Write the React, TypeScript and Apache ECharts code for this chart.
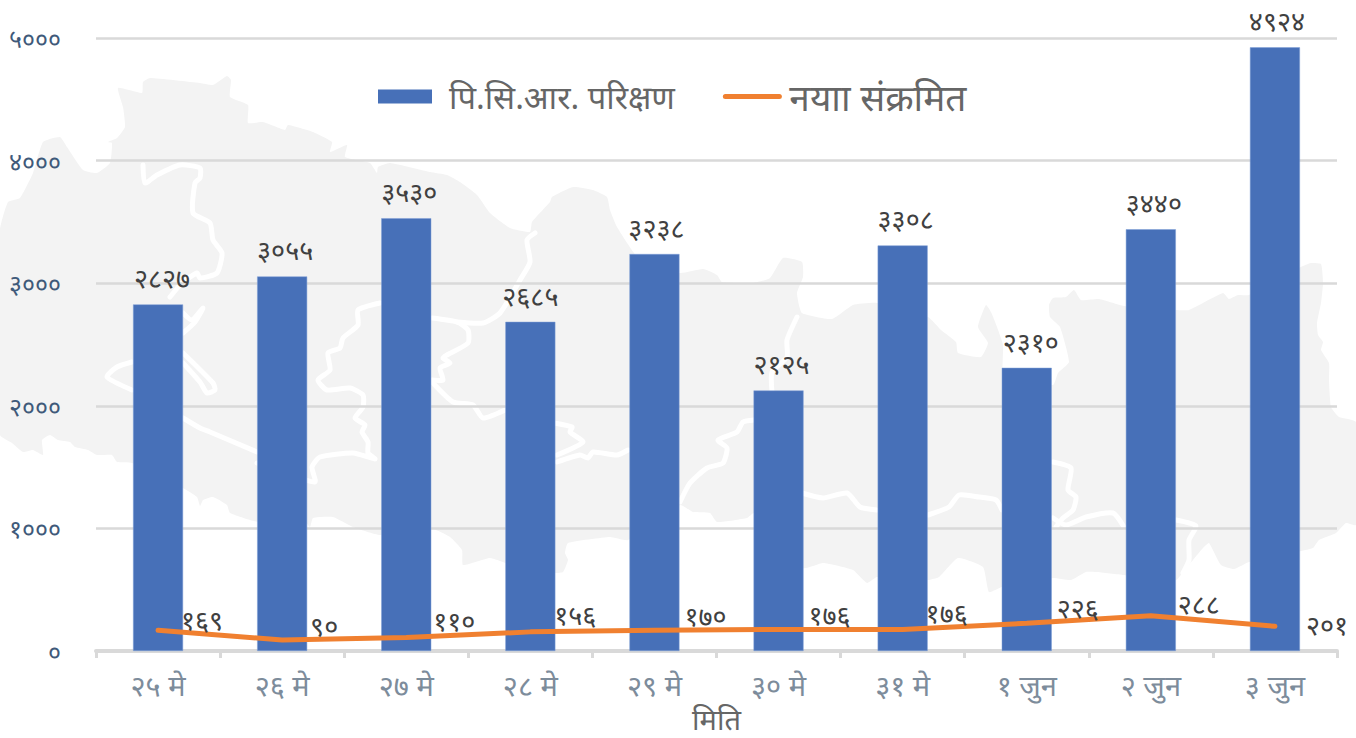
import React, { useEffect, useRef } from "react";
import * as echarts from "echarts";

const categories = ["२५ मे", "२६ मे", "२७ मे", "२८ मे", "२९ मे", "३० मे", "३१ मे", "१ जुन", "२ जुन", "३ जुन"];
const pcrTests = [2827, 3055, 3530, 2685, 3238, 2125, 3308, 2310, 3440, 4924];
const newCases = [169, 90, 110, 156, 170, 176, 176, 226, 288, 201];
const seriesNames = ["पि.सि.आर. परिक्षण", "नयाा संक्रमित"];
const axisName = "मिति";

const barLabelNudge = [[4, 0], [3, 0], [3, 0], [0, 0], [2, 0], [3, 0], [3, 0], [4, 0], [3, 0], [2, 0]];
const lineLabelNudge = [[44, -11], [42, -14], [48, -17], [45, -17], [51, -15], [51, -15], [44, -17], [51, -16], [48, -12], [52, -2]];

const mapOutline = [
  [0,230],[8,202],[20,198],[33,173],[43,142],[60,137],[67,147],[83,170],[97,173],[110,163],[112,143],[108,142],[117,138],[125,127],[123,107],[118,88],[142,93],[143,82],[150,78],[200,83],[213,85],[227,76],[231,80],[230,97],[248,105],[248,123],[263,122],[285,130],[288,125],[313,132],[332,142],[330,152],[347,145],[345,157],[370,163],[377,173],[378,167],[390,163],[430,172],[447,175],[460,182],[477,195],[490,213],[510,228],[530,232],[532,222],[550,202],[552,197],[573,187],[593,190],[607,197],[610,210],[617,227],[640,260],[680,273],[703,269],[717,275],[722,282],[753,283],[770,278],[783,258],[802,262],[803,277],[797,293],[802,313],[832,319],[853,305],[877,303],[928,317],[941,330],[956,342],[958,353],[981,357],[988,343],[978,327],[986,305],[991,312],[997,327],[1003,345],[1004,385],[1053,385],[1058,373],[1069,362],[1060,327],[1050,317],[1049,305],[1053,298],[1066,297],[1074,290],[1081,300],[1099,299],[1124,306],[1176,310],[1189,310],[1223,293],[1229,299],[1238,295],[1249,295],[1301,267],[1311,263],[1321,264],[1323,283],[1321,303],[1317,323],[1318,335],[1323,342],[1321,350],[1329,363],[1329,380],[1331,407],[1339,417],[1356,422],[1356,525],[1346,523],[1336,533],[1319,540],[1313,548],[1301,551],[1249,562],[1234,569],[1221,565],[1209,543],[1203,548],[1193,560],[1186,568],[1176,580],[1124,575],[1096,572],[1086,572],[1071,580],[1053,578],[1002,587],[989,592],[983,567],[958,558],[939,577],[928,580],[877,577],[867,583],[853,570],[823,563],[803,568],[754,513],[747,518],[717,522],[710,513],[693,512],[680,505],[628,540],[610,537],[568,543],[565,553],[568,560],[563,572],[554,573],[506,563],[490,558],[463,565],[462,550],[450,537],[430,528],[380,535],[353,527],[333,517],[313,518],[310,527],[306,523],[258,522],[230,513],[227,505],[213,497],[203,500],[200,506],[197,497],[183,488],[132,463],[117,462],[112,455],[97,455],[88,450],[75,447],[70,442],[58,440],[50,435],[42,440],[43,455],[33,450],[23,452],[12,443],[0,435],
];
const mapBorders = [
  [[143,165],[145,183],[157,175],[180,165],[200,168],[200,178],[195,183],[193,213],[210,223],[213,240],[222,253],[217,273],[200,278],[197,273],[182,283],[170,297]],
  [[183,313],[192,320],[203,308],[195,322],[183,333]],
  [[183,353],[213,383],[215,390],[207,393],[200,382],[183,363]],
  [[132,362],[117,367],[107,377],[132,390]],
  [[183,418],[200,428],[210,432],[257,452]],
  [[257,463],[290,475],[315,482],[312,467],[320,457],[353,453],[375,459],[368,453],[368,442],[362,432],[365,425],[355,418],[363,407],[363,395],[350,388],[327,390],[318,380],[330,370],[328,353],[340,348],[343,338],[358,325],[358,310],[380,303]],
  [[432,318],[457,322],[468,330],[468,343],[447,355],[443,358],[450,363],[440,368],[443,380],[432,380]],
  [[432,382],[453,402],[473,405],[483,418],[505,410]],
  [[457,322],[483,323],[500,313],[520,280],[530,262],[527,240],[535,233]],
  [[554,423],[572,427],[570,432],[583,442],[557,455]],
  [[557,462],[580,455],[588,458],[593,452],[617,455],[628,450]],
  [[680,502],[690,483],[707,468],[723,463],[727,448],[718,440],[737,432],[743,422],[754,420]],
  [[797,317],[787,340],[787,357],[772,372],[772,392]],
  [[802,493],[823,498],[847,493],[860,507],[877,510]],
  [[928,515],[949,507],[959,495],[979,497],[996,500],[1002,510]],
  [[1053,518],[1066,525],[1086,517],[1113,513],[1124,527]],
  [[1053,462],[1071,468],[1068,490],[1076,497],[1073,510],[1063,518],[1056,527]],
  [[1176,520],[1196,526],[1189,540],[1189,560],[1183,573]],
];

const DIGITS = "०१२३४५६७८९";
const toNepali = (n: number | string) => String(n).replace(/[0-9]/g, (d) => DIGITS[Number(d)]);
const FONT = "'Noto Sans', 'Noto Sans Devanagari', 'Lohit Devanagari', sans-serif";

export default function App() {
  const ref = useRef<HTMLDivElement>(null);
  useEffect(() => {
    const chart = echarts.init(ref.current!, undefined, { renderer: "svg" });
    chart.setOption({
      animation: false,
      textStyle: { fontFamily: FONT },
      graphic: [
        { type: "polygon", z: -10, silent: true, shape: { points: mapOutline, smooth: 0.15 }, style: { fill: "#f3f3f3" } },
        ...mapBorders.map((points) => ({
          type: "polyline", z: -9, silent: true, shape: { points, smooth: 0.2 },
          style: { stroke: "#ffffff", lineWidth: 5, fill: null, lineJoin: "round", lineCap: "round" },
        })),
      ],
      legend: {
        left: 373, top: 73, itemWidth: 54, itemHeight: 14, itemGap: 48,
        data: [
          { name: seriesNames[0], icon: "rect", itemStyle: { borderWidth: 0 } },
          { name: seriesNames[1], itemStyle: { opacity: 0 }, lineStyle: { width: 5, cap: "round", color: "#f08030" } },
        ],
        formatter: (name: string) => (name === seriesNames[0] ? `{a|${name}}` : `{b|${name}}`),
        textStyle: {
          color: "#666666", fontFamily: FONT,
          rich: {
            a: { fontSize: 32.6, color: "#666666", fontFamily: FONT, padding: [0, 0, 0, 12] },
            b: { fontSize: 37, color: "#666666", fontFamily: FONT, padding: [0, 0, 0, 5] },
          },
        },
      },
      grid: { left: 96, right: 19, top: 38, bottom: 87, outerBoundsMode: "none", containLabel: false },
      xAxis: {
        type: "category", data: categories,
        name: axisName, nameLocation: "middle", nameGap: 52,
        nameTextStyle: { fontSize: 29, color: "#666666", fontFamily: FONT },
        axisLine: { lineStyle: { color: "#d9d9d9", width: 4 } },
        axisTick: { show: true, length: 7, lineStyle: { color: "#d9d9d9", width: 3 } },
        axisLabel: { fontSize: 29, color: "#7d8c9b", margin: 19, fontFamily: FONT },
      },
      yAxis: {
        type: "value", min: 0, max: 5000, interval: 1000,
        axisLine: { show: false }, axisTick: { show: false },
        splitLine: { lineStyle: { color: "#d9d9d9", width: 2.5 } },
        axisLabel: { fontSize: 25, color: "#3f5a7a", margin: 35, formatter: (v: number) => toNepali(v), fontFamily: FONT },
      },
      series: [
        {
          name: seriesNames[0], type: "bar", barWidth: 50,
          itemStyle: { color: "#4770b8", borderColor: "#7f9fd6", borderWidth: 0.5 },
          data: pcrTests.map((value, i) => ({
            value,
            label: { show: true, position: "top", distance: 13, offset: barLabelNudge[i], formatter: toNepali(value), fontSize: 27, color: "#404040", fontFamily: FONT },
          })),
        },
        {
          name: seriesNames[1], type: "line", symbol: "circle", symbolSize: 1,
          lineStyle: { color: "#f08030", width: 5, cap: "round" },
          itemStyle: { color: "#f08030" },
          data: newCases.map((value, i) => ({
            value,
            label: { show: true, position: "inside", offset: lineLabelNudge[i], formatter: toNepali(value), fontSize: 27, color: "#404040", fontFamily: FONT },
          })),
        },
      ],
    });
    return () => chart.dispose();
  }, []);
  return <div ref={ref} style={{ position: "absolute", left: 0, top: 0, width: 1356, height: 738, background: "#fff" }} />;
}
